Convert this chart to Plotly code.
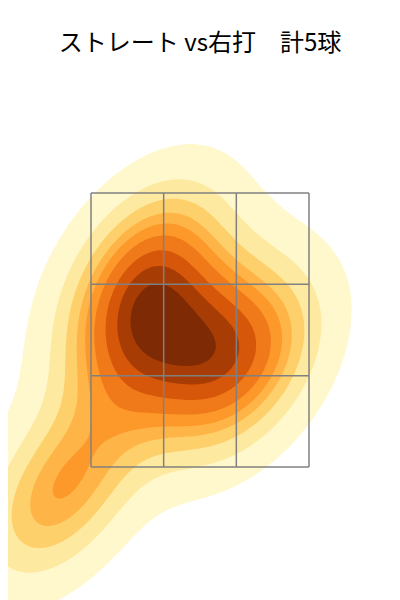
import numpy as np
import plotly.graph_objects as go

# pitch locations (ft)
pitch_x = [-0.40, -0.01, 0.34, -0.44, -1.02]
pitch_z = [2.52, 2.38, 2.21, 2.95, 1.33]

# strike zone edges (3x3 grid)
zone_x = [-0.8, -0.8 / 3, 0.8 / 3, 0.8]
zone_z = [1.5, 1.5 + 2 / 3, 1.5 + 4 / 3, 3.5]

title_text = "ストレート vs右打　計5球"

# white below lowest level, then 9 filled bands (YlOrBr-like)
BAND_COLORS = [
    "#ffffff",
    "#fff8cc",
    "#fee9a0",
    "#fed06c",
    "#feb446",
    "#fd982b",
    "#f07a19",
    "#d65709",
    "#a73d04",
    "#7d2a05",
]


def kde_grid(x, y, gridsize=200, cut=3):
    """Gaussian KDE with Scott's rule, seaborn-like grid."""
    x = np.asarray(x, float)
    y = np.asarray(y, float)
    n = len(x)
    cov = np.cov(np.vstack([x, y])) * n ** (-1 / 3)
    inv = np.linalg.inv(cov)
    norm = 1 / (2 * np.pi * np.sqrt(np.linalg.det(cov)))
    bw = np.sqrt(np.diag(cov))
    gx = np.linspace(x.min() - cut * bw[0], x.max() + cut * bw[0], gridsize)
    gy = np.linspace(y.min() - cut * bw[1], y.max() + cut * bw[1], gridsize)
    X, Y = np.meshgrid(gx, gy)
    dens = np.zeros_like(X)
    for xi, yi in zip(x, y):
        dx, dy = X - xi, Y - yi
        q = inv[0, 0] * dx * dx + 2 * inv[0, 1] * dx * dy + inv[1, 1] * dy * dy
        dens += np.exp(-0.5 * q)
    return gx, gy, dens * norm / n


def quantile_to_level(dens, quantiles):
    vals = np.sort(dens.ravel())[::-1]
    cum = np.cumsum(vals) / vals.sum()
    idx = np.searchsorted(cum, 1 - np.asarray(quantiles))
    return np.take(vals, idx, mode="clip")


gx, gy, dens = kde_grid(pitch_x, pitch_z)
levels = quantile_to_level(dens, np.linspace(0.05, 1, 10))

# map density piecewise-linearly onto level index so plotly can use even steps
t = np.interp(dens, np.concatenate([[0], levels]), np.arange(-1, 10))

nb = len(BAND_COLORS)
colorscale = []
for i, c in enumerate(BAND_COLORS):
    lo = max(0.0, (i - 0.5) / (nb - 1))
    hi = min(1.0, (i + 0.5) / (nb - 1))
    colorscale.append([lo, c])
    colorscale.append([hi, c])

fig = go.Figure()
fig.add_trace(
    go.Contour(
        x=gx,
        y=gy,
        z=t,
        colorscale=colorscale,
        contours=dict(start=0, end=8, size=1, coloring="fill", showlines=False),
        line_width=0,
        showscale=False,
        hoverinfo="skip",
    )
)

# strike zone grid
lx, ly = [], []
for vx in zone_x:
    lx += [vx, vx, None]
    ly += [zone_z[0], zone_z[-1], None]
for hz in zone_z:
    lx += [zone_x[0], zone_x[-1], None]
    ly += [hz, hz, None]
fig.add_trace(
    go.Scatter(x=lx, y=ly, mode="lines", line=dict(color="#808080", width=1.5),
               hoverinfo="skip", showlegend=False)
)

# page is offset ~8px by the html body margin; zone centre at x=200, bottom at y=467 on screen
sx, sy = 218 / 1.6, 274 / 2.0
cx, zb = 192, 459
fig.update_layout(
    width=400,
    height=600,
    margin=dict(l=0, r=0, t=80, b=0),
    paper_bgcolor="white",
    plot_bgcolor="white",
    showlegend=False,
    title=dict(
        text=title_text,
        x=cx / 400,
        xanchor="center",
        xref="paper",
        y=1 - 35 / 600,
        yanchor="middle",
        font=dict(family="Noto Sans CJK JP", size=24, color="black"),
    ),
    xaxis=dict(range=[-cx / sx, (400 - cx) / sx], visible=False, fixedrange=True),
    yaxis=dict(range=[1.5 - (600 - zb) / sy, 1.5 + (zb - 80) / sy], visible=False, fixedrange=True),
)

fig.write_html("out.html")
